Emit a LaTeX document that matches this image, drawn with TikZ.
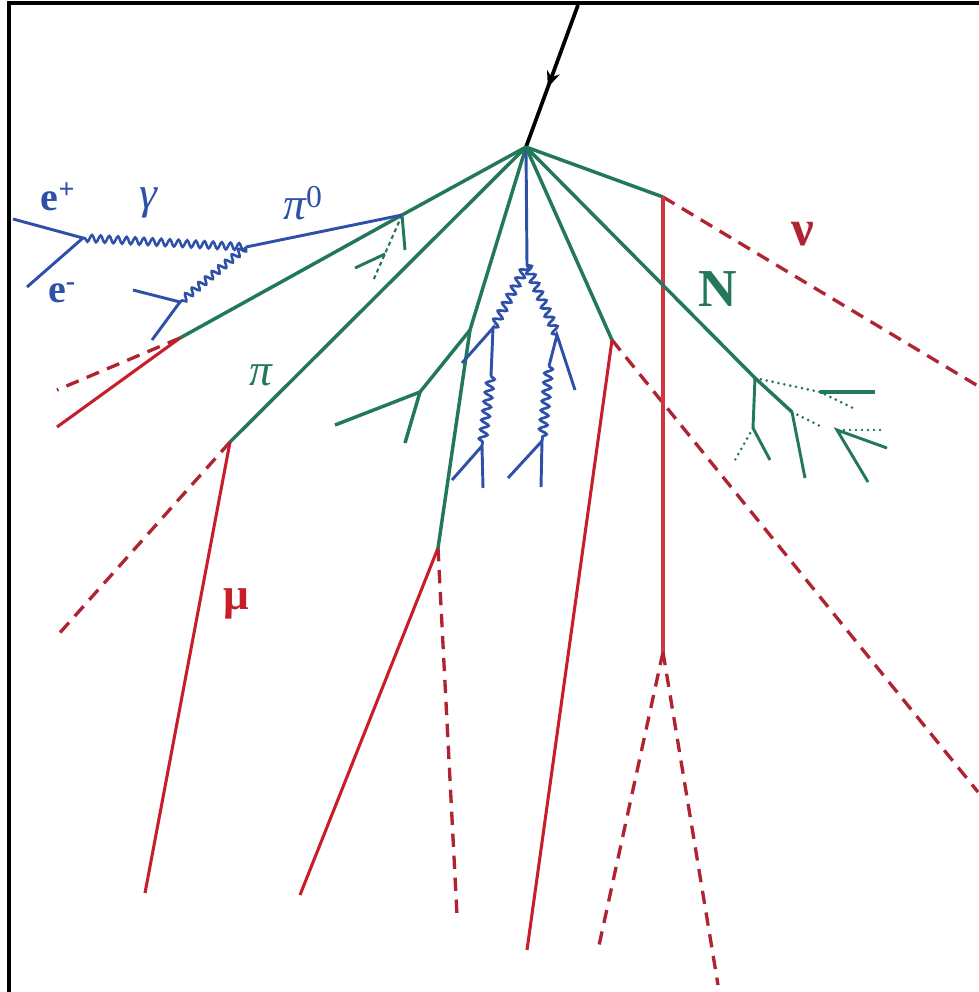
\documentclass[tikz,border=0pt]{standalone}
\usepackage{fontspec}
\setmainfont{Liberation Serif}
\usetikzlibrary{decorations.pathmorphing,decorations.markings,arrows.meta}
\definecolor{hadgreen}{RGB}{36,120,90}
\definecolor{emblue}{RGB}{46,80,168}
\definecolor{mured}{RGB}{200,30,42}
\definecolor{nured}{RGB}{176,36,50}
\tikzset{
  hadron/.style={hadgreen, line width=2.6pt},
  hadstub/.style={hadgreen, line width=2.2pt},
  slowtrail/.style={hadgreen, line width=2.2pt, line cap=round, dash pattern=on 0pt off 4.5pt},
  electron/.style={emblue, line width=2.2pt},
  photon/.style={emblue, line width=1.9pt, decorate, decoration={snake, amplitude=2.6pt, segment length=6.5pt}},
  hardphoton/.style={emblue, line width=2pt, decorate, decoration={snake, amplitude=3pt, segment length=7pt}},
  muon/.style={mured, line width=2.3pt},
  neutrino/.style={nured, line width=2.5pt, dash pattern=on 10pt off 6.5pt},
  tag/.style={inner sep=0pt, font=\fontsize{30}{30}\selectfont},
}
\begin{document}
\begin{tikzpicture}[x=0.75pt,y=-0.75pt]
\useasboundingbox (0,0) rectangle (978,992);
\draw[line width=3pt] (982,3) -- (9,3) -- (9,996);

% primary and the first vertex
\coordinate (top) at (578,5);
\coordinate (v) at (526,147);
\draw[line width=2.8pt, postaction={decorate, decoration={markings,
  mark=at position 0.58 with {\arrow{Stealth[length=12pt,width=10pt]}}}}] (top) -- (v);

% pi0 branch and its photons
\coordinate (a1) at (402,215);
\coordinate (a2) at (180,338);
\coordinate (a3) at (57,427);
\coordinate (a4) at (57,390);
\coordinate (a5) at (405,250);
\coordinate (a6) at (373,281);
\coordinate (a7) at (355,268);
\coordinate (a8) at (385,254);
\draw[hadron] (v) -- (a1) -- (a2);
\draw[muon] (a2) -- (a3);
\draw[neutrino] (a2) -- (a4);
\draw[hadstub] (a1) -- (a5);
\draw[hadgreen, line width=1.6pt, dash pattern=on 3pt off 2.5pt] (a1) -- (a6);
\draw[hadstub] (a7) -- (a8);

\coordinate (p0) at (246,247);
\coordinate (ee) at (83,238);
\coordinate (eplusend) at (13,219);
\coordinate (eminusend) at (27,287);
\coordinate (ee2) at (180,302);
\coordinate (ee2a) at (133,290);
\coordinate (ee2b) at (152,340);
\draw[electron] (p0) -- (a1);
\draw[photon] (p0) -- (ee);
\draw[photon] (p0) -- (ee2);
\draw[electron] (eplusend) -- (ee) -- (eminusend);
\draw[electron] (ee2a) -- (ee2) -- (ee2b);

% charged pion, muon
\coordinate (b1) at (230,442);
\coordinate (b2) at (145,893);
\coordinate (b3) at (57,636);
\draw[hadron] (v) -- (b1);
\draw[muon] (b1) -- (b2);
\draw[neutrino] (b1) -- (b3);

% track that forks on the way down
\coordinate (c1) at (470,330);
\coordinate (c2) at (438,548);
\coordinate (c3) at (420,392);
\coordinate (c4) at (335,425);
\coordinate (c5) at (405,443);
\coordinate (c6) at (300,895);
\coordinate (c7) at (457,915);
\draw[hadron] (v) -- (c1) -- (c2);
\draw[hadron] (c1) -- (c3) -- (c4);
\draw[hadron] (c3) -- (c5);
\draw[muon] (c2) -- (c6);
\draw[neutrino] (c2) -- (c7);

% electromagnetic cascade in the middle
\coordinate (d1) at (527,265);
\coordinate (dl) at (493,328);
\coordinate (dla) at (462,363);
\coordinate (dlb) at (491,376);
\coordinate (dl2) at (482,446);
\coordinate (dl2a) at (452,480);
\coordinate (dl2b) at (483,488);
\coordinate (dr) at (557,335);
\coordinate (dra) at (575,390);
\coordinate (drb) at (549,366);
\coordinate (dr2) at (542,441);
\coordinate (dr2a) at (508,478);
\coordinate (dr2b) at (541,487);
\draw[electron] (v) -- (d1);
\draw[hardphoton] (d1) -- (dl);
\draw[hardphoton] (d1) -- (dr);
\draw[electron] (dla) -- (dl) -- (dlb);
\draw[hardphoton] (dlb) -- (dl2);
\draw[electron] (dl2a) -- (dl2) -- (dl2b);
\draw[electron] (dra) -- (dr) -- (drb);
\draw[hardphoton] (drb) -- (dr2);
\draw[electron] (dr2a) -- (dr2) -- (dr2b);

% pion decaying to the right
\coordinate (e1) at (612,340);
\coordinate (e2) at (527,950);
\coordinate (e3) at (978,792);
\draw[hadron] (v) -- (e1);
\draw[muon] (e1) -- (e2);
\draw[neutrino] (e1) -- (e3);

% muon decay
\coordinate (f1) at (663,197);
\coordinate (f2) at (663,652);
\coordinate (f3) at (978,386);
\coordinate (f4) at (598,950);
\coordinate (f5) at (718,985);
\draw[hadron] (v) -- (f1);
\draw[neutrino] (f1) -- (f3);
\draw[mured!85!pink, line width=2.3pt] (f1) -- (f2);
\draw[neutrino] (f2) -- (f4);
\draw[neutrino] (f2) -- (f5);

% nucleon and its star
\coordinate (n1) at (755,378);
\coordinate (n2) at (792,412);
\coordinate (n3) at (837,430);
\coordinate (n1a) at (753,428);
\coordinate (n1b) at (770,460);
\coordinate (n1c) at (735,460);
\coordinate (n1d) at (820,392);
\coordinate (n1e) at (875,392);
\coordinate (n1f) at (857,410);
\coordinate (n2a) at (805,478);
\coordinate (n2b) at (822,427);
\coordinate (n3a) at (868,482);
\coordinate (n3b) at (887,448);
\coordinate (n3c) at (844,430);
\coordinate (n3d) at (882,430);
\draw[hadron] (v) -- (n1) -- (n2);
\draw[hadstub] (n1) -- (n1a) -- (n1b);
\draw[slowtrail] (n1a) -- (n1c);
\draw[slowtrail] (n1) -- (n1d) -- (n1f);
\draw[hadgreen, line width=3.4pt] (n1d) -- (n1e);
\draw[hadstub] (n2) -- (n2a);
\draw[slowtrail] (n2) -- (n2b);
\draw[hadstub] (n3a) -- (n3) -- (n3b);
\draw[slowtrail] (n3c) -- (n3d);

% labels
\node[tag, emblue] (eplus) at (58,197) {\bfseries e\textsuperscript{+}};
\node[tag, emblue] (eminus) at (62,293) {\bfseries e\textsuperscript{-}};
\node[tag, emblue, font=\fontsize{34}{34}\selectfont] (gam) at (148,203) {\itshape γ};
\node[tag, emblue, font=\fontsize{34}{34}\selectfont] (pizero) at (303,203) {\itshape π\textsuperscript{\upshape 0}};
\node[tag, hadgreen, font=\fontsize{34}{34}\selectfont] (pion) at (261,375) {\itshape π};
\node[tag, mured, font=\fontsize{34}{34}\selectfont] (mu) at (236,604) {\bfseries μ};
\node[tag, nured, font=\fontsize{38}{38}\selectfont] (nu) at (803,234) {\bfseries ν};
\node[tag, hadgreen, font=\fontsize{40}{40}\selectfont] (nuc) at (718,289) {\bfseries N};
\end{tikzpicture}
\end{document}
